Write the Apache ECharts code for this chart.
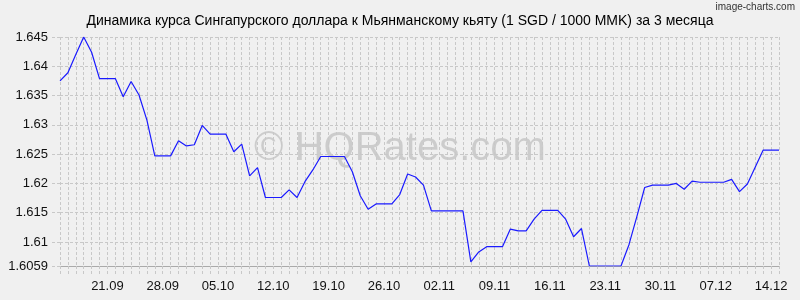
<!DOCTYPE html>
<html><head><meta charset="utf-8">
<script src="https://cdn.jsdelivr.net/npm/echarts@6/dist/echarts.min.js"></script>
<style>html,body{margin:0;padding:0;background:#f0f0f0}#c{width:800px;height:300px}</style>
</head><body><div id="c"></div>
<script>
const titleText = 'Динамика курса Сингапурского доллара к Мьянманскому кьяту (1 SGD / 1000 MMK) за 3 месяца';
const categories = [
 '15.09','16.09','17.09','18.09','19.09','20.09','21.09','22.09','23.09','24.09','25.09','26.09','27.09','28.09','29.09','30.09',
 '01.10','02.10','03.10','04.10','05.10','06.10','07.10','08.10','09.10','10.10','11.10','12.10','13.10','14.10','15.10','16.10','17.10','18.10','19.10','20.10','21.10','22.10','23.10','24.10','25.10','26.10','27.10','28.10','29.10','30.10','31.10',
 '01.11','02.11','03.11','04.11','05.11','06.11','07.11','08.11','09.11','10.11','11.11','12.11','13.11','14.11','15.11','16.11','17.11','18.11','19.11','20.11','21.11','22.11','23.11','24.11','25.11','26.11','27.11','28.11','29.11','30.11',
 '01.12','02.12','03.12','04.12','05.12','06.12','07.12','08.12','09.12','10.12','11.12','12.12','13.12','14.12','15.12'
];
const rates = [
 1.6375,1.6389,1.6420,1.6450,1.6424,1.6379,1.6379,1.6379,1.6348,1.6374,
 1.6351,1.6308,1.6247,1.6247,1.6247,1.6273,1.6264,1.6266,1.6299,1.6284,
 1.6284,1.6284,1.6254,1.6267,1.6213,1.6227,1.6176,1.6176,1.6176,1.6189,
 1.6176,1.6203,1.6223,1.6246,1.6246,1.6246,1.6246,1.6220,1.6179,1.6156,
 1.6165,1.6165,1.6165,1.6181,1.6216,1.6211,1.6197,1.6153,1.6153,1.6153,
 1.6153,1.6153,1.6066,1.6083,1.6092,1.6092,1.6092,1.6122,1.6119,1.6119,
 1.6139,1.6154,1.6154,1.6154,1.6139,1.6109,1.6123,1.6059,1.6059,1.6059,
 1.6059,1.6059,1.6095,1.6143,1.6193,1.6197,1.6197,1.6197,1.6200,1.6190,
 1.6204,1.6202,1.6202,1.6202,1.6202,1.6207,1.6186,1.6199,1.6228,1.6257,
 1.6257,1.6257
];
const xTickLabels = ['21.09','28.09','05.10','12.10','19.10','26.10','02.11','09.11','16.11','23.11','30.11','07.12','14.12'];
const yTickLabels = [1.6059, 1.61, 1.615, 1.62, 1.625, 1.63, 1.635, 1.64, 1.645];
const yMin = 1.6059, yMax = 1.645;

const gridColor = '#c8c8c8';
const dash = [3,2];
const font = 'Liberation Sans, Arial, sans-serif';
const chart = echarts.init(document.getElementById('c'));
chart.setOption({
  backgroundColor:'#f0f0f0',
  animation:false,
  title:{text:titleText,left:'center',top:9,textStyle:{fontSize:14,fontWeight:'normal',color:'#000',fontFamily:font}},
  graphic:[
    {type:'text',right:5,top:2,z:1,style:{text:'image-charts.com',fontSize:10,fill:'#333',fontFamily:'Liberation Sans Narrow, Arial Narrow, sans-serif'}},
    {type:'text',left:'center',top:129,z:0,silent:true,style:{text:'© HQRates.com',fontSize:40,fill:'rgba(0,0,0,0.15)',fontFamily:font}}
  ],
  grid:{left:60,right:21,top:37,bottom:34,containLabel:false},
  xAxis:{type:'category',data:categories,boundaryGap:false,position:'bottom',
     axisLine:{show:true,lineStyle:{color:'#aaaaaa',width:1}},
     axisTick:{show:true,interval:0,length:10,lineStyle:{color:gridColor,type:dash}},
     axisLabel:{show:true,interval:(i,v)=>xTickLabels.indexOf(v)>=0,margin:14,fontSize:13,color:'#111',fontFamily:font},
     splitLine:{show:true,interval:0,lineStyle:{color:gridColor,type:dash}}},
  yAxis:{type:'value',min:yMin,max:yMax,
    axisLine:{show:false},
    axisTick:{show:true,length:10,customValues:yTickLabels,lineStyle:{color:gridColor,type:dash}},
    axisLabel:{customValues:yTickLabels,margin:12,fontSize:13,color:'#111',fontFamily:font,formatter:v=>String(v)},
    splitLine:{show:true,lineStyle:{color:gridColor,type:dash}}},
  series:[{type:'line',data:rates,showSymbol:false,symbol:'none',
    lineStyle:{color:'#1a1aff',width:1.2},z:5}]
});
</script></body></html>
